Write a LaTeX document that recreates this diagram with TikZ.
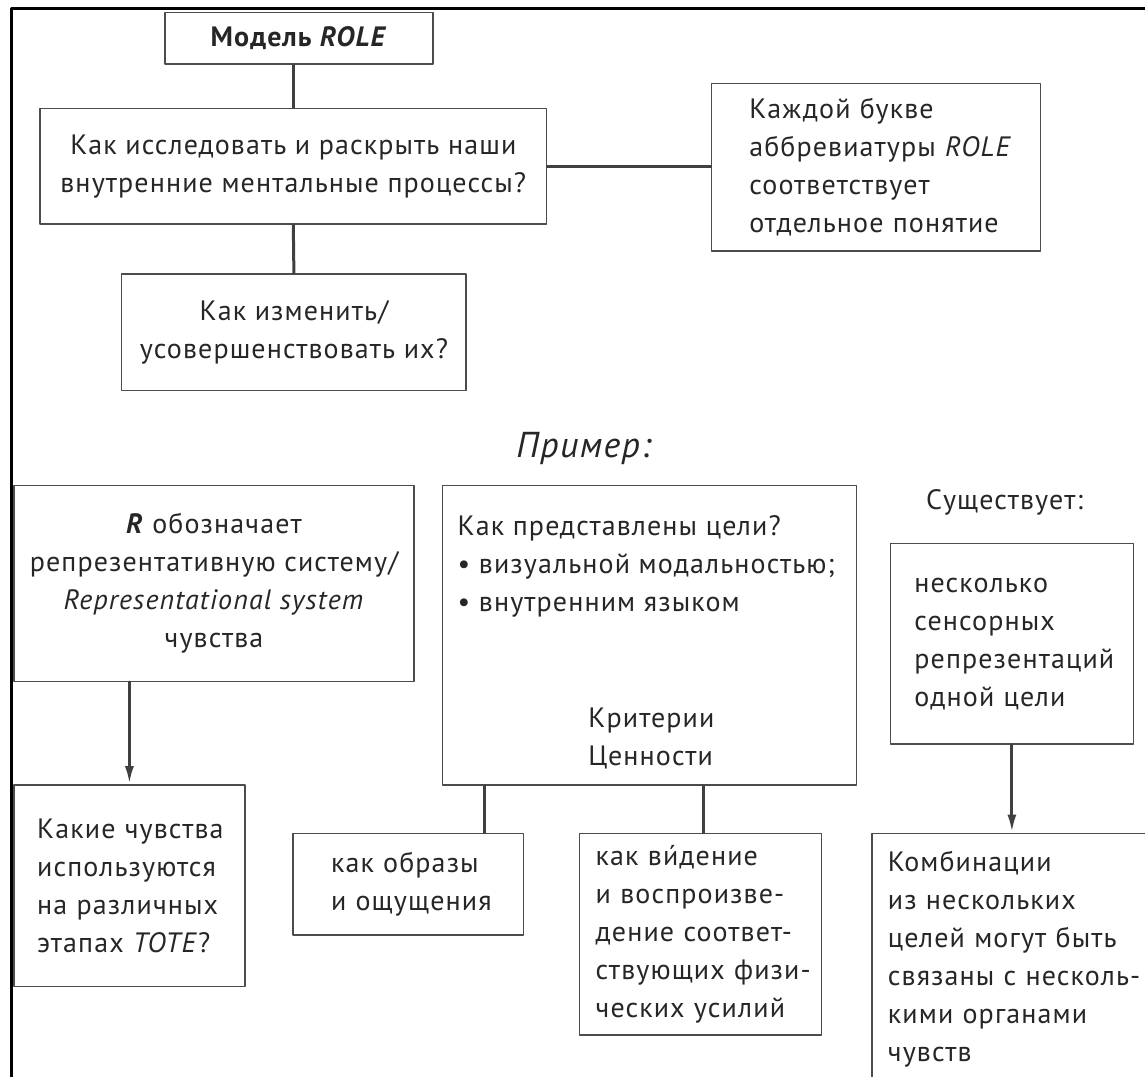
\documentclass[tikz,border=0pt]{standalone}
\usepackage{fontspec}
\setmainfont[LetterSpace=4]{PT Sans}
\usetikzlibrary{arrows.meta}
\usetikzlibrary{positioning}

\begin{document}
\begin{tikzpicture}[line cap=round,line join=round,>={Latex[length=9pt,width=4.5pt]},x=0.5pt,y=-0.5pt,
box/.style={draw=black!70,line width=0.75pt,inner sep=0pt,font=\fontsize{14}{19}\selectfont,text=black!85},
txt/.style={inner sep=0pt,font=\fontsize{14}{19}\selectfont,text=black!85},
link/.style={color=black!75,line width=1.5pt}]
\useasboundingbox (0,0) rectangle (1145,1076);
\clip (0,0) rectangle (1145,1076);
\draw[line width=1.5pt,color=black] (11.5,1100) -- (11.5,8) -- (1160,8);
% upper part
\node[box,minimum width=134pt,minimum height=25.7pt] (role) at (299,38.4) {\textbf{Модель \textit{ROLE}}};
\node[box,minimum width=253.2pt,minimum height=57.9pt,align=center] (explore) at (293.3,166.2) {Как исследовать и раскрыть наши\\внутренние ментальные процессы?};
\node[box,minimum width=172.2pt,minimum height=58.4pt,align=center] (improve) at (293.9,332.3) {Как изменить/\\усовершенствовать их?};
\node[box,inner xsep=19pt,text width=126.7pt,minimum height=83.9pt,align=left] (letters) at (876,167.2) {Каждой~букве\\\mbox{аббревиатуры~\textit{ROLE}}\\соответствует\\отдельное~понятие};
\draw[link] (explore.north |- role.south) -- (explore.north);
\draw[link] (explore.south) -- (improve.north);
\draw[link] (explore.east) -- (explore.east -| letters.west);
% example
\node[txt,font=\fontsize{18}{19}\selectfont\itshape] (example) at (583.7,448) {Пример:};
\node[box,minimum width=200.2pt,minimum height=98pt,align=center] (rsys) at (214,583.3) {\textbf{\textit{R}} обозначает\\репрезентативную систему/\\\textit{Representational system}\\чувства};
\node[box,inner xsep=11.7pt,text width=92.2pt,minimum height=100.9pt,align=left] (senses) at (129.4,885.8) {Какие~чувства\\используются\\на~различных\\этапах~\textit{TOTE}?};
\draw[link,->] (senses.north |- rsys.south) -- (senses.north);
\node[box,minimum width=206.8pt,minimum height=149.9pt] (goals) at (649.5,635.2) {};
\node[txt,anchor=west,align=left] (goalq) at (457.3,566.5) {Как представлены цели?\\• визуальной модальностью;\\• внутренним языком};
\node[txt,anchor=west,align=left] (values) at (588,738.5) {Критерии\\Ценности};
\node[box,inner xsep=19.1pt,text width=77.2pt,minimum height=50.9pt,align=left] (images) at (408.2,884.2) {как~образы\\и~ощущения};
\node[box,inner xsep=8.2pt,text width=104.6pt,minimum height=100.9pt,align=left] (seeing) at (700.3,934.2) {\mbox{как~ви́дение}\\\mbox{и~воспроизве-}\\\mbox{дение~соответ-}\\\mbox{ствующих~физи-}\\\mbox{ческих~усилий}};
\coordinate (imgx) at (484.1,0);
\coordinate (seex) at (703.7,0);
\draw[link] (goals.south -| imgx) -- (images.north -| imgx);
\draw[link] (goals.south -| seex) -- (seeing.north -| seex);
\node[txt] (exists) at (1004.5,502) {Существует:};
\node[box,inner xsep=12pt,text width=97.5pt,minimum height=100.4pt,align=left] (several) at (1011.9,643.7) {несколько\\сенсорных\\\mbox{репрезентаций}\\одной~цели};
\node[box,inner xsep=8pt,text width=138pt,minimum height=125.9pt,align=left] (combos) at (1025.9,959.2) {Комбинации\\из~нескольких\\\mbox{целей~могут~быть}\\\mbox{связаны~с~несколь-}\\кими~органами\\чувств};
\draw[link,->] (several.south) -- (several.south |- combos.north);
\end{tikzpicture}
\end{document}
